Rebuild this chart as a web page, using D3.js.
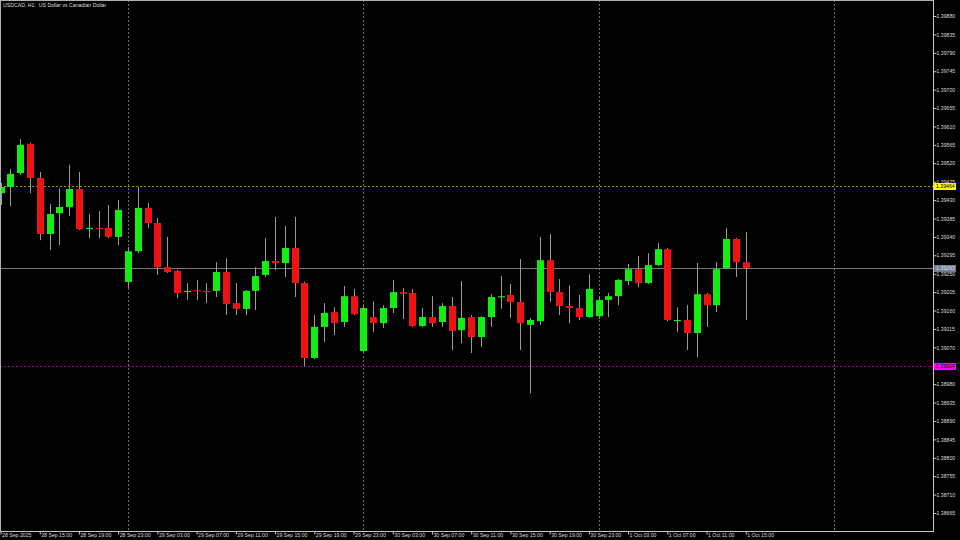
<!DOCTYPE html>
<html>
<head>
<meta charset="utf-8">
<script src="https://cdn.jsdelivr.net/npm/d3@7"></script>
<style>
html,body{margin:0;padding:0;background:#000;}
svg{display:block;}
</style>
</head>
<body>
<svg id="chart" width="960" height="540"></svg>
<script>
// ---- data (USDCAD H1) ----
const opens  = [1.39447,1.39462,1.39496,1.39567,1.39484,1.39347,1.39398,1.39413,1.39457,1.39359,1.39362,1.39362,1.39340,
  1.39230,1.39305,1.39411,1.39374,1.39266,1.39257,1.39205,1.39210,1.39208,1.39208,1.39254,1.39178,1.39164,1.39208,1.39247,1.39281,1.39276,1.39313,1.39227,1.39044,1.39120,1.39156,1.39132,1.39195,
  1.39061,1.39144,1.39129,1.39166,1.39205,1.39203,1.39122,1.39144,1.39132,1.39171,1.39112,1.39144,1.39095,1.39144,1.39193,1.39198,1.39181,1.39125,1.39134,1.39283,1.39205,1.39171,1.39166,1.39144,
  1.39146,1.39186,1.39195,1.39232,1.39261,1.39227,1.39271,1.39310,1.39137,1.39137,1.39105,1.39200,1.39173,1.39264,1.39335,1.39278];
const highs  = [1.39472,1.39506,1.39579,1.39570,1.39499,1.39420,1.39459,1.39516,1.39499,1.39396,1.39403,1.39418,1.39430,
  1.39315,1.39462,1.39423,1.39386,1.39340,1.39259,1.39227,1.39235,1.39227,1.39278,1.39288,1.39227,1.39210,1.39266,1.39337,1.39389,1.39367,1.39389,1.39230,1.39149,1.39178,1.39168,1.39220,1.39213,
  1.39173,1.39183,1.39173,1.39235,1.39215,1.39213,1.39166,1.39195,1.39178,1.39193,1.39232,1.39149,1.39146,1.39200,1.39244,1.39225,1.39286,1.39142,1.39340,1.39347,1.39237,1.39222,1.39198,1.39249,
  1.39193,1.39203,1.39237,1.39274,1.39293,1.39300,1.39325,1.39313,1.39168,1.39173,1.39276,1.39203,1.39278,1.39362,1.39337,1.39352];
const lows   = [1.39418,1.39415,1.39491,1.39447,1.39332,1.39308,1.39320,1.39391,1.39357,1.39337,1.39337,1.39337,1.39320,
  1.39215,1.39300,1.39362,1.39247,1.39252,1.39190,1.39186,1.39186,1.39178,1.39193,1.39149,1.39149,1.39149,1.39161,1.39242,1.39259,1.39242,1.39193,1.39024,1.39041,1.39083,1.39100,1.39120,1.39149,
  1.39059,1.39107,1.39117,1.39154,1.39139,1.39120,1.39120,1.39120,1.39120,1.39063,1.39080,1.39056,1.39071,1.39120,1.39164,1.39142,1.39063,1.38958,1.39125,1.39181,1.39149,1.39129,1.39137,1.39142,
  1.39139,1.39144,1.39173,1.39222,1.39217,1.39225,1.39269,1.39134,1.39107,1.39063,1.39046,1.39120,1.39156,1.39261,1.39242,1.39137];
const closes = [1.39462,1.39494,1.39565,1.39484,1.39347,1.39396,1.39413,1.39457,1.39359,1.39362,1.39359,1.39340,1.39406,
  1.39305,1.39411,1.39374,1.39266,1.39254,1.39203,1.39208,1.39208,1.39207,1.39254,1.39176,1.39164,1.39208,1.39244,1.39281,1.39276,1.39313,1.39227,1.39044,1.39120,1.39154,1.39129,1.39195,1.39151,
  1.39166,1.39129,1.39166,1.39205,1.39201,1.39122,1.39144,1.39129,1.39171,1.39110,1.39142,1.39095,1.39144,1.39193,1.39195,1.39181,1.39129,1.39137,1.39283,1.39205,1.39171,1.39166,1.39144,1.39213,
  1.39186,1.39195,1.39235,1.39261,1.39227,1.39271,1.39310,1.39137,1.39137,1.39105,1.39200,1.39173,1.39261,1.39335,1.39278,1.39264];

const timeLabels = ["28 Sep 2025","28 Sep 15:00","28 Sep 19:00","28 Sep 23:00","29 Sep 03:00","29 Sep 07:00","29 Sep 11:00",
  "29 Sep 15:00","29 Sep 19:00","29 Sep 23:00","30 Sep 03:00","30 Sep 07:00","30 Sep 11:00","30 Sep 15:00","30 Sep 19:00",
  "30 Sep 23:00","1 Oct 03:00","1 Oct 07:00","1 Oct 11:00","1 Oct 15:00"];
const timeLabelBars = [0,4,8,12,16,20,24,28,32,36,40,44,48,52,56,60,64,68,72,76];
const dayStartBars = [13,37,61,85]; // 29 Sep, 30 Sep, 1 Oct, 2 Oct 00:00
const priceTicks = ["1.39880","1.39835","1.39790","1.39745","1.39700","1.39655","1.39610","1.39565","1.39520","1.39475",
  "1.39430","1.39385","1.39340","1.39295","1.39250","1.39205","1.39160","1.39115","1.39070","1.39025","1.38980","1.38935",
  "1.38890","1.38845","1.38800","1.38755","1.38710","1.38665"];
const levelPrices = [1.39464, 1.39263, 1.39024];
const title = "USDCAD, H1:  US Dollar vs Canadian Dollar";

// ---- layout ----
const W = 960, H = 540;
const plotR = 933, plotB = 531;
const svg = d3.select("#chart");
svg.append("rect").attr("width",W).attr("height",H).attr("fill","#000");

const x = d3.scaleLinear().domain([0, 95]).range([0.5, 0.5 + 95*9.806]);
const y = d3.scaleLinear().domain([1.38665, 1.39880]).range([513, 16]);

const bars = opens.map((o,i)=>({i, o, h:highs[i], l:lows[i], c:closes[i]}));

const defs = svg.append("defs");
defs.append("clipPath").attr("id","clip").append("rect").attr("x",0).attr("y",0).attr("width",plotR).attr("height",plotB);

const plot = svg.append("g").attr("clip-path","url(#clip)");

// day separators
plot.selectAll(".sep").data(dayStartBars).enter().append("line")
  .attr("x1",d=>Math.round(x(d))+0.5).attr("x2",d=>Math.round(x(d))+0.5)
  .attr("y1",0).attr("y2",plotB)
  .attr("stroke","#6e6e6e").attr("stroke-width",1).attr("stroke-dasharray","2,2");

// level lines
const levelColors = ["#9a9a00","#7a7a7a","#a000a0"];
const levelDash = ["2,2",null,"2,2"];
plot.selectAll(".lvl").data(levelPrices).enter().append("line")
  .attr("x1",0).attr("x2",plotR)
  .attr("y1",d=>Math.round(y(d))+0.5).attr("y2",d=>Math.round(y(d))+0.5)
  .attr("stroke",(d,i)=>levelColors[i]).attr("stroke-width",1)
  .attr("stroke-dasharray",(d,i)=>levelDash[i]);

// candles
const up = "#12ee12", down = "#ee1212";
const cg = plot.selectAll(".bar").data(bars).enter().append("g");
cg.append("line")
  .attr("x1",d=>Math.round(x(d.i))+0.5).attr("x2",d=>Math.round(x(d.i))+0.5)
  .attr("y1",d=>y(d.h)).attr("y2",d=>y(d.l))
  .attr("stroke","#9a9a9a").attr("stroke-width",1);
cg.append("rect")
  .attr("x",d=>Math.round(x(d.i))-3)
  .attr("width",7)
  .attr("y",d=>y(Math.max(d.o,d.c)))
  .attr("height",d=>Math.max(1.2, Math.abs(y(d.o)-y(d.c))))
  .attr("fill",d=>d.c>=d.o?up:down);

// frame
svg.append("line").attr("x1",0.5).attr("x2",0.5).attr("y1",0).attr("y2",plotB).attr("stroke","#b0b0b0");
svg.append("line").attr("x1",0).attr("x2",plotR).attr("y1",0.5).attr("y2",0.5).attr("stroke","#b0b0b0");

// right axis
const yAxis = d3.axisRight(y)
  .tickValues(priceTicks.map(Number))
  .tickFormat((d,i)=>priceTicks[i])
  .tickSize(3).tickSizeOuter(0);
const ya = svg.append("g").attr("transform",`translate(${plotR+0.5},0)`).call(yAxis);
ya.select(".domain").attr("stroke","#c8c8c8").attr("d",`M0,0V${plotB}`);
ya.selectAll(".tick line").attr("stroke","#c8c8c8");
ya.selectAll(".tick text").attr("fill","#dcdcdc").attr("x",3)
  .style("font-family","'Liberation Sans', Arial, sans-serif").style("font-size","5.2px");

// bottom axis
const xAxis = d3.axisBottom(x)
  .tickValues(timeLabelBars)
  .tickFormat((d,i)=>timeLabels[i])
  .tickSize(3).tickSizeOuter(0);
const xa = svg.append("g").attr("transform",`translate(0,${plotB+0.5})`).call(xAxis);
xa.select(".domain").attr("stroke","#c8c8c8").attr("d",`M0,0H${plotR+1}`);
xa.selectAll(".tick line").attr("stroke","#c8c8c8");
xa.selectAll(".tick text").attr("fill","#dcdcdc").attr("text-anchor","start")
  .attr("x",1).attr("y",2).attr("dy","0.71em")
  .style("font-family","'Liberation Sans', Arial, sans-serif").style("font-size","5.2px");

// level price labels
const lblBg = ["#ffff00","#6f7f8f","#ff00ff"];
const lblFg = ["#000","#e0e0e0","#000"];
const lg = svg.selectAll(".lbl").data(levelPrices).enter().append("g")
  .attr("transform",d=>`translate(${plotR+1},${Math.round(y(d))})`);
lg.append("rect").attr("x",0).attr("y",-3).attr("width",22).attr("height",7)
  .attr("fill",(d,i)=>lblBg[i]);
lg.append("text").attr("x",2).attr("y",0.5).attr("dy","0.35em")
  .attr("fill",(d,i)=>lblFg[i])
  .style("font-family","'Liberation Sans', Arial, sans-serif").style("font-size","5.2px")
  .text(d=>d.toFixed(5));

// title
svg.append("text").attr("x",3).attr("y",5).attr("dy","0.35em")
  .attr("fill","#dcdcdc")
  .style("font-family","'Liberation Sans', Arial, sans-serif").style("font-size","5.2px")
  .style("white-space","pre")
  .text(title);
</script>
</body>
</html>
